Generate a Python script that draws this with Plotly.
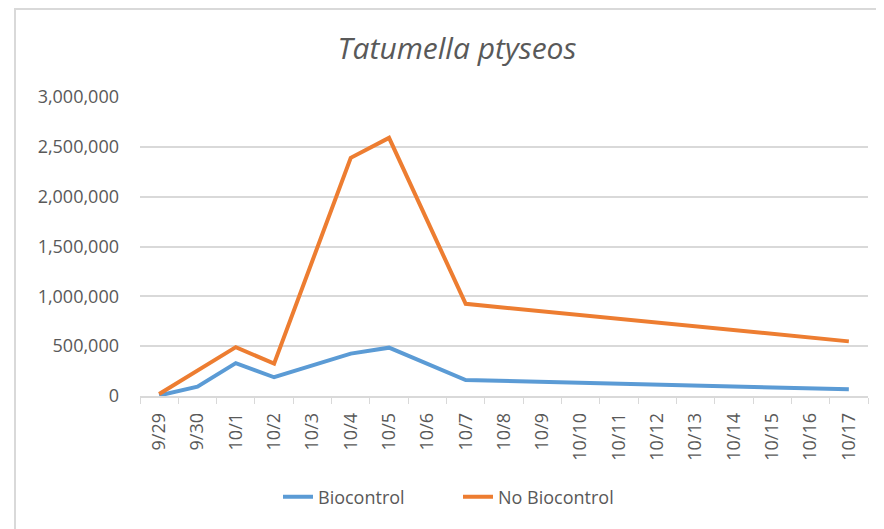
import plotly.graph_objects as go

# --- данные ---
dates = ['9/29', '9/30', '10/1', '10/2', '10/3', '10/4', '10/5', '10/6', '10/7', '10/8',
         '10/9', '10/10', '10/11', '10/12', '10/13', '10/14', '10/15', '10/16', '10/17']

# None = no sample that day, the line just connects the neighbours (as in Excel)
biocontrol = [5000, 94000, 330000, 188000, None, 425000, 485000, None, 160000, None,
              None, None, None, None, None, None, None, None, 67000]
no_biocontrol = [20000, None, 490000, 325000, None, 2390000, 2590000, None, 925000, None,
                 None, None, None, None, None, None, None, None, 548000]

y_ticks = [0, 500000, 1000000, 1500000, 2000000, 2500000, 3000000]

FONT = 'Open Sans'
GRAY = '#595959'
GRID = '#d9d9d9'

# page body has an 8px margin, so positions taken from the reference are shifted back by it
OFF = 8
W, H = 884, 529

fig = go.Figure()
fig.add_trace(go.Scatter(x=dates, y=biocontrol, name='Biocontrol', mode='lines',
                         connectgaps=True, line=dict(color='#5b9bd5', width=4)))
fig.add_trace(go.Scatter(x=dates, y=no_biocontrol, name='No Biocontrol', mode='lines',
                         connectgaps=True, line=dict(color='#ed7d31', width=4)))

# plot area in the reference: x 140..868 px, y 97..396 px
pw, ph = 728, 299
L, T = 140 - OFF, 97 - OFF
R, B = W - L - pw, H - T - ph

fig.update_layout(
    width=W, height=H,
    margin=dict(l=L, r=R, t=T, b=B),
    paper_bgcolor='white', plot_bgcolor='white',
    font=dict(family=FONT, color=GRAY, size=18),
    title=dict(text='<i>Tatumella ptyseos</i>', x=(457 - OFF) / W, xanchor='center',
               y=1 - (48 - OFF) / H, yanchor='middle',
               font=dict(family=FONT, size=30, color=GRAY)),
    showlegend=True,
    legend=dict(orientation='h', xref='container', yref='container',
                x=(458 - OFF) / W, xanchor='center', y=1 - (497 - OFF) / H, yanchor='middle',
                entrywidth=135, entrywidthmode='pixels',
                font=dict(size=18, color=GRAY)),
    xaxis=dict(type='category', categoryorder='array', categoryarray=dates,
               tickangle=-90, showgrid=False, showline=True, linecolor=GRID, linewidth=1.5,
               ticks='outside', tickson='boundaries', ticklen=6, tickcolor=GRID,
               ticklabelstandoff=8, automargin=False,
               tickfont=dict(size=18, color=GRAY), range=[-0.5, len(dates) - 0.5]),
    yaxis=dict(range=[0, 3000000], tickvals=y_ticks, tickformat=',d',
               showgrid=True, gridcolor=GRID, gridwidth=1.5, zeroline=False,
               showline=False, ticks='', ticklabelstandoff=20, automargin=False,
               tickfont=dict(size=18, color=GRAY)),
)

# outer chart border (cut off at right and bottom in the original)
fig.add_shape(type='rect', xref='paper', yref='paper',
              x0=(15 - OFF - L) / pw, x1=(W + 10 - L) / pw,
              y0=(T + ph - (H + 10)) / ph, y1=(T + ph - 1) / ph,
              line=dict(color=GRID, width=2), fillcolor='rgba(0,0,0,0)', layer='below')

fig.write_html('out.html')
